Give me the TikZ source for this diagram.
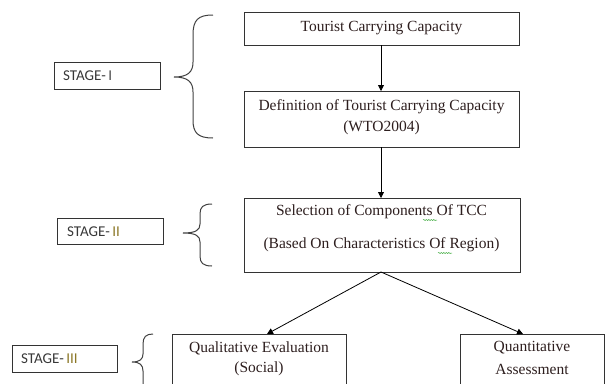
\documentclass[tikz,border=0pt]{standalone}
\usepackage{fontspec}
\setmainfont{Liberation Serif}
\newfontfamily\stagefont{Carlito}
\usetikzlibrary{arrows.meta,decorations.pathmorphing}
\definecolor{txt}{RGB}{45,30,30}
\definecolor{numcol}{RGB}{140,120,40}
\definecolor{spell}{RGB}{60,170,60}
\tikzset{
  boxline/.style={draw=black!80,line width=1pt},
  flowtext/.style={text=txt,font=\fontsize{15.5}{18}\selectfont,inner sep=0pt},
  stagetext/.style={text=black!78,font=\stagefont\fontsize{15}{17}\selectfont,anchor=west,inner sep=0pt},
  flowarrow/.style={-{Triangle[length=6pt,width=6pt]},line width=0.8pt,black},
  bracepath/.style={line width=1pt,black!75},
  squiggle/.style={spell,line width=0.5pt,decorate,decoration={snake,amplitude=0.6pt,segment length=2.5pt}}
}
\begin{document}
\begin{tikzpicture}[x=1pt,y=-1pt]
\useasboundingbox (0,0) rectangle (605,383);
\clip (0,0) rectangle (605,383);
% flow boxes
\draw[boxline] (244,12) rectangle (519,45);
\node[flowtext] (t1) at (381.5,28.5) {Tourist Carrying Capacity};
\coordinate (b1s) at (381,45);
\draw[boxline] (244,91) rectangle (519,147);
\coordinate (b2n) at (381,91);
\coordinate (b2s) at (381,147);
\node[flowtext] (t2a) at (381.5,107) {Definition of Tourist Carrying Capacity};
\node[flowtext] (t2b) at (381.5,128) {(WTO2004)};
\draw[boxline] (244,198) rectangle (520,272);
\coordinate (b3n) at (381,198);
\coordinate (b3s) at (381,272);
\node[flowtext] (t3a) at (381.5,212) {Selection of Components Of TCC};
\node[flowtext] (t3b) at (381.5,245) {(Based On Characteristics Of Region)};
\draw[squiggle] (423,220) -- (437,220);
\draw[squiggle] (438,253) -- (452,253);
% stage III boxes
\draw[boxline] (172,334) rectangle (346,395);
\coordinate (q1n) at (267,334);
\node[flowtext] (t4a) at (259,348) {Qualitative Evaluation};
\node[flowtext] (t4b) at (259,369) {(Social)};
\draw[boxline] (460,334) rectangle (604.5,395);
\coordinate (q2n) at (523,334);
\node[flowtext] (t5a) at (532,348) {Quantitative};
\node[flowtext] (t5b) at (532,369) {Assessment};
% arrows
\draw[flowarrow] (b1s) -- (b2n);
\draw[flowarrow] (b2s) -- (b3n);
\draw[flowarrow] (b3s) -- (q1n);
\draw[flowarrow] (b3s) -- (q2n);
% stage labels
\draw[boxline] (54,62) rectangle (160,89);
\node[stagetext] (s1) at (63,76) {STAGE-\,\textcolor{black!70}{I}};
\draw[boxline] (57,218) rectangle (163,244);
\node[stagetext] (s2) at (67,231.5) {STAGE-\,\textcolor{numcol}{II}};
\draw[boxline] (12,345) rectangle (117,372);
\node[stagetext] (s3) at (21,359) {STAGE-\,\textcolor{numcol}{III}};
% braces
\draw[bracepath] (213,15) .. controls (198,15) and (193,20) .. (193,35)
  -- (193,62) .. controls (193,72) and (188,77) .. (174,77)
  .. controls (188,77) and (193,82) .. (193,92)
  -- (193,120) .. controls (193,133) and (198,138) .. (213,138);
\draw[bracepath] (212,204) .. controls (203,204) and (200,207) .. (200,214)
  -- (200,224) .. controls (200,230) and (196,233) .. (183,233)
  .. controls (196,233) and (200,236) .. (200,242)
  -- (200,256) .. controls (200,263) and (203,266) .. (212,266);
\draw[bracepath] (153,334) .. controls (146,334) and (143,337) .. (143,344)
  -- (143,354) .. controls (143,359) and (140,362) .. (132,362)
  .. controls (140,362) and (143,365) .. (143,371)
  -- (143,390);
\end{tikzpicture}
\end{document}
